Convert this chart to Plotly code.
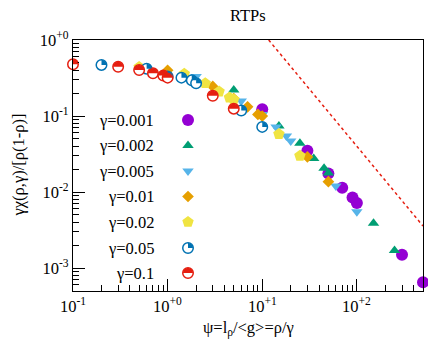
import plotly.graph_objects as go
import numpy as np

# ---- data ----
gamma_labels = ["γ=0.001", "γ=0.002", "γ=0.005", "γ=0.01", "γ=0.02", "γ=0.05", "γ=0.1"]

psi_g0001 = [10, 30, 50, 70, 90, 100, 300, 500]
chi_g0001 = [0.123, 0.035, 0.0176, 0.0114, 0.0085, 0.0072, 0.0015, 0.00065]

psi_g0002 = [5, 15, 25, 35, 45, 50, 150, 250]
chi_g0002 = [0.22, 0.074, 0.044, 0.0277, 0.0205, 0.0178, 0.0039, 0.0017]

psi_g0005 = [2, 6, 10, 14, 18, 20, 60, 100]
chi_g0005 = [0.33, 0.158, 0.105, 0.072, 0.0546, 0.047, 0.012, 0.0055]

psi_g001 = [1, 3, 5, 7, 9, 10, 30, 50]
chi_g001 = [0.40, 0.245, 0.17, 0.132, 0.105, 0.10, 0.029, 0.0137]

psi_g002 = [0.5, 1.5, 2.5, 3.5, 4.5, 5, 15, 25]
chi_g002 = [0.44, 0.36, 0.27, 0.21, 0.175, 0.165, 0.058, 0.030]

psi_g005 = [0.2, 0.6, 1.0, 1.4, 1.8, 2.0, 6, 10]
chi_g005 = [0.47, 0.42, 0.33, 0.32, 0.295, 0.27, 0.118, 0.072]

psi_g01 = [0.1, 0.3, 0.5, 0.7, 0.9, 1.0, 3, 5]
chi_g01 = [0.48, 0.445, 0.403, 0.365, 0.34, 0.32, 0.185, 0.125]

guide_psi = [11.7, 500]
guide_chi = [1.0, 0.00358]

x_tickvals = [0.1, 1, 10, 100]
x_ticktext = ["10<sup>-1</sup>", "10<sup>+0</sup>", "10<sup>+1</sup>", "10<sup>+2</sup>"]
y_tickvals = [1, 0.1, 0.01, 0.001]
y_ticktext = ["10<sup>+0</sup>", "10<sup>-1</sup>", "10<sup>-2</sup>", "10<sup>-3</sup>"]
x_minor = [k * 10.0 ** d for d in range(-1, 3) for k in range(2, 10)]
y_minor = [k * 10.0 ** d for d in range(-4, 0) for k in range(2, 10)]

# ---- style ----
FONT = "Liberation Serif, Times New Roman, serif"
FS = 16.5
PURPLE = "#9400D3"
GREEN = "#009E73"
LBLUE = "#56B4E9"
ORANGE = "#E69F00"
YELLOW = "#F0E442"
BLUE = "#0072B2"
RED = "#E51E10"
TXT = dict(family=FONT, size=FS, color="black")

series = [
    (psi_g0001, chi_g0001, dict(symbol="circle", size=12, color=PURPLE)),
    (psi_g0002, chi_g0002, dict(symbol="triangle-up", size=10, color=GREEN)),
    (psi_g0005, chi_g0005, dict(symbol="triangle-down", size=10, color=LBLUE)),
    (psi_g001, chi_g001, dict(symbol="diamond", size=9, color=ORANGE)),
    (psi_g002, chi_g002, dict(symbol="pentagon", size=12, color=YELLOW)),
    (psi_g005, chi_g005, dict(symbol="circle", size=10.5, color="white", line=dict(color=BLUE, width=1.5))),
    (psi_g01, chi_g01, dict(symbol="circle", size=10.5, color="white", line=dict(color=RED, width=1.5))),
]

fig = go.Figure()

fig.add_trace(go.Scatter(x=guide_psi, y=guide_chi, mode="lines",
                         line=dict(color=RED, width=1.5, dash="dot"),
                         showlegend=False, hoverinfo="skip"))

for (xs, ys, mk) in series:
    fig.add_trace(go.Scatter(x=xs, y=ys, mode="markers", marker=mk, showlegend=False,
                             cliponaxis=False))

R = 5.0
K = 0.5523
half_path = (f"M {-R},0 C {-R},{K*R} {-K*R},{R} 0,{R} "
             f"C {K*R},{R} {R},{K*R} {R},0 Z")
quarter_path = f"M 0,0 L 0,{R} C {K*R},{R} {R},{K*R} {R},0 Z"

shapes = []
def fill_shape(xa, ya, path, color, xref="x", yref="y"):
    return dict(type="path", xref=xref, yref=yref, xsizemode="pixel", ysizemode="pixel",
                xanchor=xa, yanchor=ya, path=path, fillcolor=color,
                line=dict(width=0), layer="above")

for xa, ya in zip(psi_g005, chi_g005):
    shapes.append(fill_shape(xa, ya, quarter_path, BLUE))
for xa, ya in zip(psi_g01, chi_g01):
    shapes.append(fill_shape(xa, ya, half_path, RED))

# ---- legend (marker right of text), on an overlay pixel-like axis ----
PW, PH = 350, 251
leg_x_marker = 115
leg_x_text = 83
leg_rows = [80, 105.5, 131, 156.5, 182, 208, 233]
annotations = []
for i, (lab, (xs, ys, mk)) in enumerate(zip(gamma_labels, series)):
    fig.add_trace(go.Scatter(x=[leg_x_marker], y=[leg_rows[i]], mode="markers", marker=mk,
                             xaxis="x2", yaxis="y2", showlegend=False, hoverinfo="skip"))
    annotations.append(dict(x=leg_x_text, y=leg_rows[i], xref="x2", yref="y2", text=lab,
                            showarrow=False, xanchor="right", yanchor="middle", font=TXT))
shapes.append(fill_shape(leg_x_marker, leg_rows[5], quarter_path, BLUE, "x2", "y2"))
shapes.append(fill_shape(leg_x_marker, leg_rows[6], half_path, RED, "x2", "y2"))

# x tick labels (as text under the axis, placed through the x axis)
for v, t in zip(x_tickvals, x_ticktext):
    annotations.append(dict(text=t, x=np.log10(v), xref="x", y=0, yref="paper", yshift=-14,
                            showarrow=False, xanchor="center", yanchor="middle", font=TXT))

annotations += [
    dict(text="RTPs", x=0.5, y=1, xref="paper", yref="paper", yshift=25, showarrow=False,
         xanchor="center", yanchor="middle", font=TXT),
    dict(text="ψ=l<sub>ρ</sub>/&lt;g&gt;=ρ/γ", x=0.5, y=0, xref="paper", yref="paper", yshift=-37,
         showarrow=False, xanchor="center", yanchor="middle", font=TXT),
    dict(text="γχ(ρ,γ)/[ρ(1-ρ)]", x=0, y=0.5, xref="paper", yref="paper", xshift=-55,
         showarrow=False, textangle=-90, xanchor="center", yanchor="middle", font=TXT),
]

axis_common = dict(type="log", showgrid=False, zeroline=False, showline=True, linecolor="black",
                   linewidth=1.2, mirror=True, ticks="inside", ticklen=12, tickwidth=1,
                   tickcolor="black", tickfont=TXT, automargin=False)

fig.update_layout(
    width=428, height=342,
    margin=dict(l=73, r=5, t=40, b=51),
    paper_bgcolor="white", plot_bgcolor="white",
    showlegend=False,
    font=TXT,
    xaxis=dict(range=[-1, np.log10(500)], tickvals=x_tickvals, showticklabels=False,
               minor=dict(ticks="inside", ticklen=6, tickwidth=1, tickcolor="black",
                          tickvals=x_minor, showgrid=False),
               **axis_common),
    yaxis=dict(range=[np.log10(5e-4), 0], tickvals=y_tickvals, ticktext=y_ticktext,
               minor=dict(ticks="inside", ticklen=6, tickwidth=1, tickcolor="black",
                          tickvals=y_minor, showgrid=False),
               **axis_common),
    xaxis2=dict(range=[0, PW], overlaying="x", anchor="y2", visible=False, fixedrange=True),
    yaxis2=dict(range=[PH, 0], overlaying="y", anchor="x2", visible=False, fixedrange=True),
    shapes=shapes,
    annotations=annotations,
)

fig.write_html("out.html", config={"displayModeBar": False},
               post_script="document.body.style.margin='0';")
